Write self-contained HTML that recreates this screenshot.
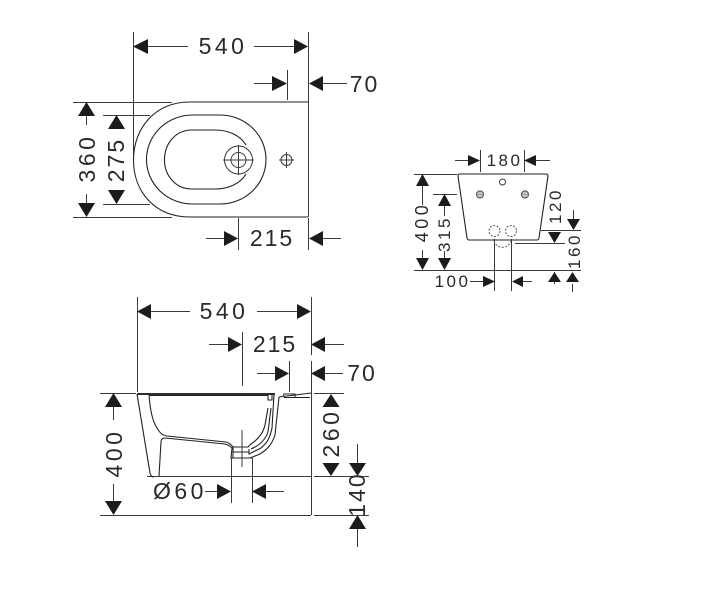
<!DOCTYPE html>
<html><head><meta charset="utf-8"><style>
html,body{margin:0;padding:0;background:#fff}
svg{display:block;filter:blur(0.3px)}
text{font-family:"Liberation Sans",sans-serif;fill:#2a2a2a;text-anchor:middle}
.t{font-size:23px;letter-spacing:3.500px}
.n{font-size:23px;letter-spacing:2px}
.s{font-size:17px;letter-spacing:2.500px}
.m{font-size:18px;letter-spacing:3.500px}
.l{stroke:#3a3a3a;stroke-width:1;fill:none}
.b{stroke:#222;stroke-width:1.100;fill:none}
.h{stroke:#111;stroke-width:1.800;fill:none}
.d{stroke:#555;stroke-width:1;fill:none;stroke-dasharray:2 1.500}
polygon{fill:#1c1c1c}
</style></head><body>
<svg width="715" height="600" viewBox="0 0 715 600" xmlns="http://www.w3.org/2000/svg">
<!-- TOP VIEW -->
<path class="l" d="M133.500 32V155M308.500 32V217M287.500 70V100M238.500 218V250M308.500 218V250M73 102.500H172M73 217.500H172M103 115.500H150M103 204.500H150"/>
<path class="l" d="M148 46.500H188M254 46.500H294M254 83.500H272M322 83.500H347M86.500 116V125M86.500 194V203M206 238.500H224M322 238.500H341"/>
<polygon points="133,46.500 148,39 148,54"/><polygon points="308,46.500 294,39 294,54"/>
<polygon points="287,83.500 272,76 272,91"/><polygon points="309,83.500 323,76 323,91"/>
<polygon points="86.500,102 78,116 95,116"/><polygon points="86.500,217 78,203 95,203"/>
<polygon points="116.500,115 108,129 125,129"/><polygon points="116.500,204 108,190 125,190"/>
<polygon points="238,238.500 224,231 224,246"/><polygon points="309,238.500 323,231 323,246"/>
<path class="b" d="M308 102H190C155 102 133.500 128 133.500 160C133.500 192 155 217 190 217H308"/>
<rect class="b" x="146.500" y="115" width="119.500" height="89" rx="46" ry="44.500"/>
<path class="b" d="M246 145C240 135 228 130 215 130H192C176 130 164.500 143 164.500 160C164.500 176 176 189 192 189H215C228 189 240 184 246 174"/>
<circle cx="238.500" cy="160" r="14" fill="#fff" stroke="#3a3a3a"/><circle class="l" cx="238.500" cy="160" r="7.500"/>
<path class="l" d="M238.500 145V175M223 160H254"/>
<circle class="l" cx="286.500" cy="160" r="5.500"/><path class="l" d="M286.500 152V168M279 160H294"/>
<text class="t" x="223" y="54">540</text>
<text class="n" x="364.500" y="92">70</text>
<text class="n" x="272" y="246">215</text>
<text class="t" transform="translate(95 158) rotate(-90)">360</text>
<text class="n" transform="translate(124 160) rotate(-90)">275</text>

<!-- SIDE SECTION -->
<path class="l" d="M137.500 297V392M311.500 297V355M311.500 361V515M242.500 332V386M289.500 361V392M100 393.500H136M314 393.500H344M100 515.500H311M314 515.500H369M147 476.500H311M314 476.500H369M231.500 458V503M252.500 458V503"/>
<path class="l" d="M151 311.500H190M257 311.500H297M209 344.500H228M325 344.500H344M257 373.500H275M325 373.500H343M113.500 407V420M113.500 484V501M357.500 444V463M357.500 529V547M205 491.500H217M266 491.500H284"/>
<polygon points="137,311.500 151,304 151,319"/><polygon points="311,311.500 297,304 297,319"/>
<polygon points="242,344.500 228,337 228,352"/><polygon points="311,344.500 325,337 325,352"/>
<polygon points="289,373.500 275,366 275,381"/><polygon points="311,373.500 325,366 325,381"/>
<polygon points="113.500,393 105,407 122,407"/><polygon points="113.500,515 105,501 122,501"/>
<polygon points="331,394 322.500,407 339.500,407"/><polygon points="331,476 322.500,463 339.500,463"/>
<polygon points="357.500,476 349,463 366,463"/><polygon points="357.500,515 349,529 366,529"/>
<polygon points="231,491.500 217,484 217,499"/><polygon points="252,491.500 266,484 266,499"/>
<path class="h" d="M137 394H275"/>
<path class="b" d="M149 395.500H268"/>
<path class="b" d="M137 394L150 473Q151 477 154 477M159 476L161 442Q161 438 165 438L225 444Q229 445 232 448L231 458H252"/>
<path class="b" d="M149 394C150 410 153 422 157 428C160 433 162 435 167 436L226 442Q230 443 233 447H248L251 444C257 440 263 434 265 425L268 408"/>
<path class="b" d="M251 449C258 446 265 441 268 432L271 408"/>
<path class="b" d="M274 394L272 428C270 438 267 443 261 448L249 454V449"/>
<path class="b" d="M279 397L275 435C272 444 268 449 260 454L250 458"/>
<path class="b" d="M268 394V400H272V394M279 397L311 393M283 397L284 394H295V397M284 397.500H310M233 447V458M233 452H249"/>
<path class="l" d="M242 430V467"/>
<text class="t" x="224" y="319">540</text>
<text class="n" x="275" y="352">215</text>
<text class="n" x="362" y="381">70</text>
<text class="t" x="180" y="499">Ø60</text>
<text class="t" transform="translate(122 453) rotate(-90)">400</text>
<text class="t" transform="translate(339 433) rotate(-90)">260</text>
<text class="n" transform="translate(365 494.500) rotate(-90)">140</text>

<!-- REAR VIEW -->
<path class="l" d="M480.500 150V172M524.500 150V172M414 174.500H457M433 194.500H457M414 270.500H581M541 230.500H581M515 243.500H565M494.500 239V291M511.500 239V291"/>
<path class="l" d="M455 160.500H468M536 160.500H550M422.500 186V205M422.500 250V258M444.500 206V216M444.500 251V258M573.500 210V219M554.500 284V272M572.500 284V292M470 281.500H483M523 281.500H532"/>
<polygon points="480,160.500 468,155 468,166"/><polygon points="524,160.500 536,155 536,166"/>
<polygon points="422.500,174 416,186 429,186"/><polygon points="422.500,270 416,258 429,258"/>
<polygon points="444.500,194 438,206 451,206"/><polygon points="444.500,270 438,258 451,258"/>
<polygon points="554.500,243 548,232 561,232"/><polygon points="573.500,230 567,219 580,219"/>
<polygon points="554.500,272 548,282 561,282"/><polygon points="572.500,272 566,282 579,282"/>
<polygon points="495,281.500 483,276 483,287"/><polygon points="512,281.500 523,276 523,287"/>
<path class="b" d="M459 174H546Q548 174 548 176L539 238Q538.500 240 537 240H469Q467.500 240 467 238L458 176Q458 174 459 174Z"/>
<circle class="l" cx="502.500" cy="182" r="3"/>
<circle cx="480" cy="194.500" r="3.500" fill="#ddd" stroke="#555" stroke-width="1.200"/><circle cx="525" cy="194.500" r="3.500" fill="#ddd" stroke="#555" stroke-width="1.200"/>
<path stroke="#888" stroke-width="0.700" fill="none" d="M480 191V198M476.500 194.500H483.500M525 191V198M521.500 194.500H528.500"/>
<circle class="d" cx="494.500" cy="231" r="5.500"/><circle class="d" cx="511" cy="231" r="5.500"/>
<path class="d" d="M494 241A9 9.500 0 0 0 511 241"/>
<text class="s" x="504.500" y="166">180</text>
<text class="s" x="452.500" y="287">100</text>
<text class="m" transform="translate(428 222) rotate(-90)">400</text>
<text class="s" transform="translate(450 234) rotate(-90)">315</text>
<text class="s" transform="translate(561 206) rotate(-90)">120</text>
<text class="s" transform="translate(580 251) rotate(-90)">160</text>
</svg>
</body></html>
